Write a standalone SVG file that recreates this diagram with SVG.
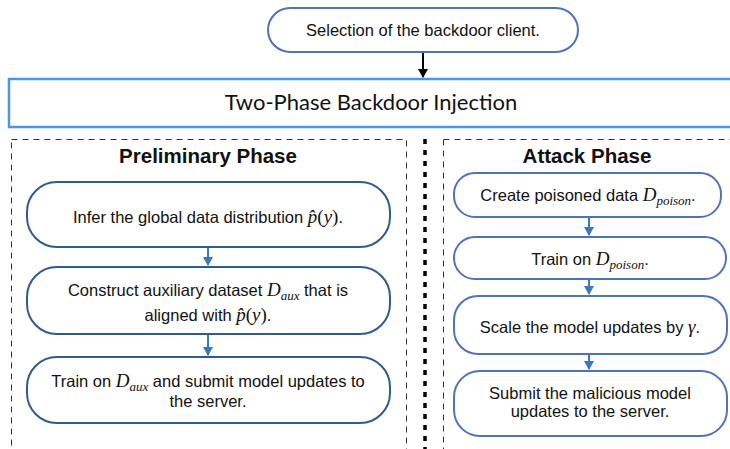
<svg xmlns="http://www.w3.org/2000/svg" width="730" height="449" viewBox="0 0 730 449">
<style>
.t{font-family:"Liberation Sans",Arial,sans-serif;font-size:16.5px;fill:#111;text-anchor:middle}
.h{font-family:"Liberation Sans",Arial,sans-serif;font-size:20.5px;font-weight:bold;fill:#111;text-anchor:middle}
.m{font-family:"Liberation Serif","Times New Roman",serif;font-style:italic;font-size:19px}
.mu{font-family:"Liberation Serif","Times New Roman",serif;font-size:19px}
.s{font-family:"Liberation Serif","Times New Roman",serif;font-style:italic;font-size:13px}
.ln{fill:#fff;stroke:#2f5b8e;stroke-width:2}
.rn{fill:#fff;stroke:#4f72bb;stroke-width:2}
.dash{fill:none;stroke:#333;stroke-width:1;stroke-dasharray:6,5}
.ba{stroke:#3b77bb;stroke-width:2;fill:none}
</style>
<defs>
<marker id="bh" markerWidth="10" markerHeight="10" refX="8" refY="5" orient="auto" markerUnits="userSpaceOnUse">
<path d="M0,0 L9,5 L0,10 Z" fill="#3b77bb"/>
</marker>
<marker id="kh" markerWidth="10" markerHeight="10" refX="8" refY="5" orient="auto" markerUnits="userSpaceOnUse">
<path d="M0,0 L9,5 L0,10 Z" fill="#000"/>
</marker>
</defs>
<rect width="730" height="449" fill="#fff"/>

<g id="phase-frames">
<rect class="dash" x="11.5" y="139.5" width="395" height="330"/>
<rect class="dash" x="443.5" y="139.5" width="300" height="330"/>
<line x1="425" y1="139" x2="425" y2="449" stroke="#000" stroke-width="3.5" stroke-dasharray="5,6"/>
</g>

<g id="connectors">
<line x1="423" y1="52" x2="423" y2="77" stroke="#000" stroke-width="2" marker-end="url(#kh)"/>
<line class="ba" x1="208" y1="247" x2="208" y2="265" marker-end="url(#bh)"/>
<line class="ba" x1="208" y1="334" x2="208" y2="355" marker-end="url(#bh)"/>
<line class="ba" x1="589" y1="217" x2="589" y2="235" marker-end="url(#bh)"/>
<line class="ba" x1="589" y1="279" x2="589" y2="294" marker-end="url(#bh)"/>
<line class="ba" x1="589" y1="354" x2="589" y2="369" marker-end="url(#bh)"/>
</g>

<g id="selection">
<rect x="268" y="8" width="310" height="44" rx="22" fill="#fff" stroke="#4f72bb" stroke-width="2"/>
<text class="t" x="423" y="36">Selection of the backdoor client.</text>
</g>

<g id="title">
<rect x="9" y="79" width="730" height="48" fill="#fff" stroke="#4a97e6" stroke-width="2.5"/>
<text x="371" y="110" font-family="Lato,'Open Sans',sans-serif" font-size="22" fill="#111" text-anchor="middle">Two-Phase Backdoor Injection</text>
</g>

<g id="prelim-heading">
<text class="h" x="208" y="163">Preliminary Phase</text>
</g>
<g id="attack-heading">
<text class="h" x="587" y="163">Attack Phase</text>
</g>

<g id="infer">
<rect class="ln" x="27" y="182" width="363" height="65" rx="30"/>
<text class="t" x="208" y="223">Infer the global data distribution <tspan class="m">p̂</tspan><tspan class="mu">(</tspan><tspan class="m">y</tspan><tspan class="mu">)</tspan>.</text>
</g>

<g id="construct">
<rect class="ln" x="27" y="267" width="363" height="67" rx="30"/>
<text class="t" x="208" y="296">Construct auxiliary dataset <tspan class="m">D</tspan><tspan class="s" dy="4">aux</tspan><tspan dy="-4"> that is</tspan></text>
<text class="t" x="208" y="321">aligned with <tspan class="m">p̂</tspan><tspan class="mu">(</tspan><tspan class="m">y</tspan><tspan class="mu">)</tspan>.</text>
</g>

<g id="train-aux">
<rect class="ln" x="27" y="357" width="363" height="66" rx="30"/>
<text class="t" x="208" y="387">Train on <tspan class="m">D</tspan><tspan class="s" dy="4">aux</tspan><tspan dy="-4"> and submit model updates to</tspan></text>
<text class="t" x="208" y="407">the server.</text>
</g>

<g id="create-poison">
<rect class="rn" x="454" y="173" width="267" height="44" rx="21"/>
<text class="t" x="588" y="201">Create poisoned data <tspan class="m">D</tspan><tspan class="s" dy="4">poison</tspan><tspan dy="-4">.</tspan></text>
</g>

<g id="train-poison">
<rect class="rn" x="454" y="237" width="272" height="42" rx="21"/>
<text class="t" x="590" y="265">Train on <tspan class="m">D</tspan><tspan class="s" dy="4">poison</tspan><tspan dy="-4">.</tspan></text>
</g>

<g id="scale">
<rect class="rn" x="454" y="296" width="273" height="58" rx="24"/>
<text class="t" x="590" y="333">Scale the model updates by <tspan class="m">γ</tspan>.</text>
</g>

<g id="submit">
<rect class="rn" x="454" y="371" width="273" height="65" rx="26"/>
<text class="t" x="590" y="399">Submit the malicious model</text>
<text class="t" x="590" y="417">updates to the server.</text>
</g>
</svg>
